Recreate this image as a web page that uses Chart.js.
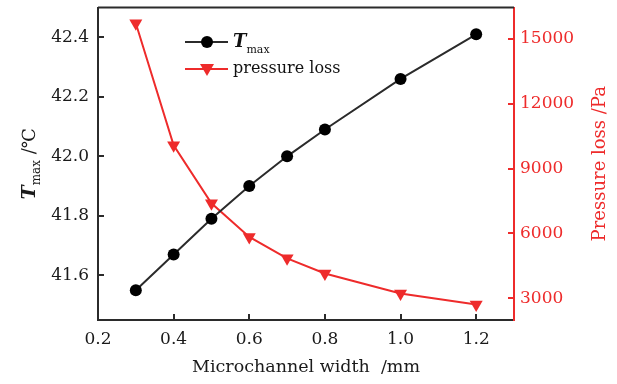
<!DOCTYPE html>
<html>
<head>
<meta charset="utf-8">
<script src="https://cdn.jsdelivr.net/npm/chart.js@4.4.1/dist/chart.umd.min.js"></script>
<style>
  html, body { margin: 0; padding: 0; background: #fff; }
  #wrap { width: 617px; height: 384px; }
</style>
</head>
<body>
<div id="wrap"><canvas id="grafico" width="617" height="384"></canvas></div>
<script>
const LARGURAS = [0.3, 0.4, 0.5, 0.6, 0.7, 0.8, 1.0, 1.2];
const T_MAX = [41.55, 41.67, 41.79, 41.90, 42.00, 42.09, 42.26, 42.41];
const PERDA_PRESSAO = [15720, 10080, 7400, 5840, 4850, 4150, 3230, 2720];

const TICKS_X = [0.2, 0.4, 0.6, 0.8, 1.0, 1.2];
const TICKS_T = [41.6, 41.8, 42.0, 42.2, 42.4];
const TICKS_P = [3000, 6000, 9000, 12000, 15000];

const PRETO = '#2b2b2b';
const VERMELHO = '#ee2b2b';
const FONTE = '"DejaVu Serif", serif';

// ── Plugin: bordas, ticks internos, títulos e legenda ───────────────────────
const extras = {
  id: 'extras',
  afterDraw(chart) {
    const ctx = chart.ctx;
    const a = chart.chartArea;
    const sx = chart.scales.x, sy = chart.scales.y, sp = chart.scales.y1;
    ctx.save();

    // borda superior
    ctx.strokeStyle = PRETO;
    ctx.lineWidth = 2;
    ctx.beginPath();
    ctx.moveTo(a.left, a.top);
    ctx.lineTo(a.right, a.top);
    ctx.stroke();

    // ticks internos
    const L = 6;
    ctx.beginPath();
    TICKS_X.forEach(v => {
      const px = Math.round(sx.getPixelForValue(v));
      ctx.moveTo(px, a.bottom);
      ctx.lineTo(px, a.bottom - L);
    });
    TICKS_T.forEach(v => {
      const py = Math.round(sy.getPixelForValue(v));
      ctx.moveTo(a.left, py);
      ctx.lineTo(a.left + L, py);
    });
    ctx.stroke();
    ctx.strokeStyle = VERMELHO;
    ctx.beginPath();
    TICKS_P.forEach(v => {
      const py = Math.round(sp.getPixelForValue(v));
      ctx.moveTo(a.right, py);
      ctx.lineTo(a.right - L, py);
    });
    ctx.stroke();

    // título eixo x
    ctx.fillStyle = '#1a1a1a';
    ctx.font = '17.5px ' + FONTE;
    ctx.textAlign = 'center';
    ctx.textBaseline = 'middle';
    ctx.fillText('Microchannel width  /mm', (a.left + a.right) / 2, 367);

    // título eixo esquerdo: T_max /℃
    ctx.save();
    ctx.translate(30, (a.top + a.bottom) / 2);
    ctx.rotate(-Math.PI / 2);
    ctx.textAlign = 'left';
    ctx.textBaseline = 'middle';
    const fT = 'italic bold 19px ' + FONTE;
    const fSub = '12px ' + FONTE;
    const fResto = '18px ' + FONTE;
    ctx.font = fT; const wT = ctx.measureText('T').width;
    ctx.font = fSub; const wS = ctx.measureText('max').width;
    ctx.font = fResto; const wR = ctx.measureText(' /℃').width;
    let x0 = -(wT + wS + wR) / 2;
    ctx.font = fT; ctx.fillText('T', x0, 0); x0 += wT;
    ctx.font = fSub; ctx.fillText('max', x0, 7); x0 += wS;
    ctx.font = fResto; ctx.fillText(' /℃', x0, 0);
    ctx.restore();

    // título eixo direito
    ctx.save();
    ctx.translate(600, (a.top + a.bottom) / 2);
    ctx.rotate(-Math.PI / 2);
    ctx.fillStyle = VERMELHO;
    ctx.font = '18px ' + FONTE;
    ctx.textAlign = 'center';
    ctx.textBaseline = 'middle';
    ctx.fillText('Pressure loss /Pa', 0, 0);
    ctx.restore();

    // legenda
    const lx1 = 185, lx2 = 228, mx = 207, tx = 233;
    ctx.lineWidth = 2;
    ctx.strokeStyle = PRETO;
    ctx.beginPath(); ctx.moveTo(lx1, 42); ctx.lineTo(lx2, 42); ctx.stroke();
    ctx.fillStyle = '#000';
    ctx.beginPath(); ctx.arc(mx, 42, 6, 0, Math.PI * 2); ctx.fill();
    ctx.strokeStyle = VERMELHO;
    ctx.beginPath(); ctx.moveTo(lx1, 69); ctx.lineTo(lx2, 69); ctx.stroke();
    ctx.fillStyle = VERMELHO;
    ctx.beginPath();
    ctx.moveTo(mx - 7, 64); ctx.lineTo(mx + 7, 64); ctx.lineTo(mx, 76);
    ctx.closePath(); ctx.fill();

    ctx.fillStyle = '#111';
    ctx.textAlign = 'left';
    ctx.textBaseline = 'middle';
    ctx.font = 'italic bold 18px ' + FONTE;
    ctx.fillText('T', tx, 42);
    const w = ctx.measureText('T').width;
    ctx.font = '11px ' + FONTE;
    ctx.fillText('max', tx + w, 50);
    ctx.font = '16px ' + FONTE;
    ctx.fillText('pressure loss', tx, 69);

    ctx.restore();
  }
};

function fixarTicks(lista) {
  return scale => { scale.ticks = lista.map(v => ({ value: v })); };
}

function larguraFixa(w) {
  return s => { s.width = w; s.paddingTop = 0; s.paddingBottom = 0; };
}

new Chart(document.getElementById('grafico'), {
  type: 'line',
  data: {
    datasets: [
      {
        label: 'Tmax',
        data: LARGURAS.map((x, i) => ({ x, y: T_MAX[i] })),
        yAxisID: 'y',
        borderColor: PRETO,
        borderWidth: 2,
        pointStyle: 'circle',
        pointRadius: 6,
        pointBackgroundColor: '#000',
        pointBorderWidth: 0,
        tension: 0
      },
      {
        label: 'pressure loss',
        data: LARGURAS.map((x, i) => ({ x, y: PERDA_PRESSAO[i] })),
        yAxisID: 'y1',
        borderColor: VERMELHO,
        borderWidth: 2,
        pointStyle: 'triangle',
        pointRotation: 180,
        pointRadius: 7.5,
        pointBackgroundColor: VERMELHO,
        pointBorderWidth: 0,
        tension: 0
      }
    ]
  },
  options: {
    responsive: false,
    animation: false,
    layout: { padding: { top: 7, left: 0, right: 0, bottom: 0 } },
    plugins: { legend: { display: false }, tooltip: { enabled: false } },
    scales: {
      x: {
        type: 'linear',
        min: 0.2,
        max: 1.3,
        afterBuildTicks: fixarTicks(TICKS_X),
        afterFit: s => { s.height = 64; },
        grid: { display: false, drawTicks: false },
        border: { color: PRETO, width: 2 },
        ticks: {
          padding: 9,
          color: '#1a1a1a',
          font: { family: FONTE, size: 17 },
          callback: v => Number(v).toFixed(1)
        }
      },
      y: {
        position: 'left',
        min: 41.45,
        max: 42.5,
        afterBuildTicks: fixarTicks(TICKS_T),
        afterFit: larguraFixa(98),
        grid: { display: false, drawTicks: false },
        border: { color: PRETO, width: 2 },
        ticks: {
          padding: 9,
          color: '#1a1a1a',
          font: { family: FONTE, size: 17 },
          callback: v => Number(v).toFixed(1)
        }
      },
      y1: {
        position: 'right',
        min: 2000,
        max: 16450,
        afterBuildTicks: fixarTicks(TICKS_P),
        afterFit: larguraFixa(103),
        grid: { display: false, drawTicks: false },
        border: { color: VERMELHO, width: 2 },
        ticks: {
          padding: 6,
          color: VERMELHO,
          font: { family: FONTE, size: 17 },
          callback: v => String(v)
        }
      }
    }
  },
  plugins: [extras]
});
</script>
</body>
</html>
